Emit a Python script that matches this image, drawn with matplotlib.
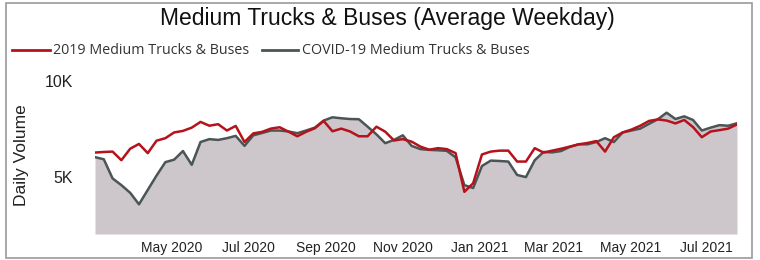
import numpy as np
import pandas as pd
import matplotlib
matplotlib.use("Agg")
import matplotlib.pyplot as plt
from matplotlib.patches import Rectangle

# weekly average weekday volumes
weeks = pd.date_range("2020-03-01", periods=74, freq="7D")

vol_2019 = [6250, 6280, 6300, 5850, 6450, 6700, 6220, 6870, 7000, 7300,
            7380, 7550, 7850, 7650, 7730, 7400, 7640, 6800, 7250, 7330,
            7500, 7570, 7340, 7100, 7330, 7520, 7900, 7360, 7500, 7350,
            7100, 7100, 7600, 7340, 6880, 6950, 6820, 6560, 6400, 6480,
            6430, 6220, 4200, 4650, 6150, 6300, 6350, 6350, 5780, 5780,
            6480, 6250, 6350, 6450, 6560, 6680, 6750, 6850, 6300, 7050,
            7300, 7450, 7650, 7900, 7980, 7920, 7770, 7950, 7580, 7050,
            7350, 7420, 7500, 7720]

vol_covid = [6010, 5900, 4900, 4550, 4150, 3550, 4300, 5050, 5750, 5880,
             6330, 5610, 6800, 6950, 6910, 7000, 7120, 6600, 7150, 7270,
             7400, 7400, 7350, 7260, 7400, 7550, 7920, 8090, 8040, 8000,
             7990, 7600, 7200, 6740, 6910, 7150, 6600, 6430, 6390, 6370,
             6340, 6000, 4550, 4400, 5550, 5830, 5810, 5780, 5080, 4970,
             5850, 6280, 6260, 6330, 6550, 6680, 6680, 6800, 7000, 6800,
             7300, 7400, 7500, 7750, 7990, 8330, 8000, 8140, 7950, 7400,
             7550, 7680, 7650, 7780]

xtick_dates = pd.to_datetime(["2020-05-01", "2020-07-01", "2020-09-01", "2020-11-01",
                              "2021-01-01", "2021-03-01", "2021-05-01", "2021-07-01"])
xtick_labels = ["May 2020", "Jul 2020", "Sep 2020", "Nov 2020",
                "Jan 2021", "Mar 2021", "May 2021", "Jul 2021"]
yticks = [5000, 10000]
ytick_labels = ["5K", "10K"]

red = "#b5121b"
grey = "#4b5555"
fill = "#cdc6cb"

fig = plt.figure(figsize=(7.6, 2.6), dpi=100)

# frame around the visual
fig.patches.append(Rectangle((0.008, 0.008), 0.982, 0.982, transform=fig.transFigure,
                             fill=False, edgecolor="#9a9a9a", linewidth=1.2))

ax = fig.add_axes([95 / 760, 1 - 234 / 260, (737 - 95) / 760, (234 - 80.7) / 260])

ax.fill_between(weeks, vol_covid, 2000, color=fill, linewidth=0)
ax.plot(weeks, vol_covid, color=grey, linewidth=1.8)
ax.plot(weeks, vol_2019, color=red, linewidth=1.8)

ax.set_xlim(weeks[0], weeks[-1])
ax.set_ylim(2000, 10000)

ax.set_yticks(yticks)
ax.set_yticklabels(ytick_labels, fontsize=11.5, family="Liberation Sans", color="#222222")
ax.set_xticks(xtick_dates)
ax.set_xticklabels(xtick_labels, fontsize=10, family="Liberation Sans", color="#222222")
ax.tick_params(length=0)
ax.tick_params(axis="y", pad=16)
ax.tick_params(axis="x", pad=5)
for s in ax.spines.values():
    s.set_visible(False)

fig.text(22 / 760, 1 - 155 / 260, "Daily Volume", rotation=90, ha="center", va="center",
         fontsize=12.5, family="Liberation Sans", color="#222222")

fig.text(387 / 760, 1 - 19 / 260, "Medium Trucks & Buses (Average Weekday)",
         ha="center", va="center", fontsize=16.5, family="Liberation Sans", color="#111111")

# legend drawn by hand
leg_y = 1 - 50 / 260
fig.lines.append(plt.Line2D([12 / 760, 50 / 760], [leg_y, leg_y], transform=fig.transFigure,
                            color=red, linewidth=2))
fig.text(53 / 760, leg_y, "2019 Medium Trucks & Buses", ha="left", va="center",
         fontsize=10.3, family="Open Sans", color="#333333")
fig.lines.append(plt.Line2D([262 / 760, 298 / 760], [leg_y, leg_y], transform=fig.transFigure,
                            color=grey, linewidth=2))
fig.text(302 / 760, leg_y, "COVID-19 Medium Trucks & Buses", ha="left", va="center",
         fontsize=10.3, family="Open Sans", color="#333333")

fig.savefig("out.png", dpi=100)
